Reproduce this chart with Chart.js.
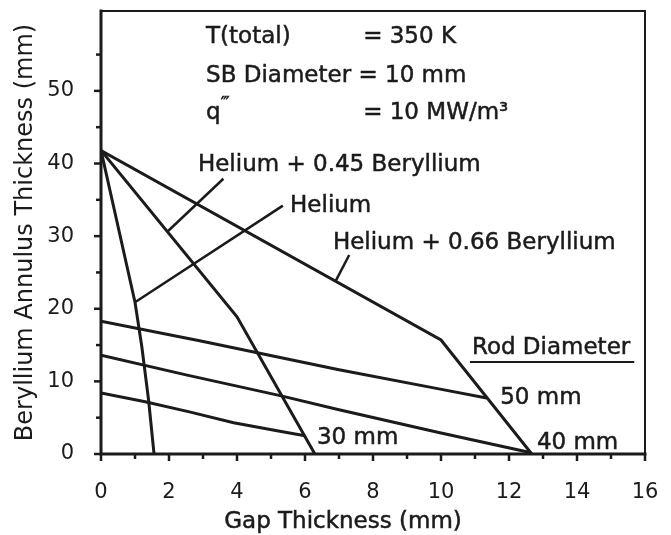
<!DOCTYPE html>
<html>
<head>
<meta charset="utf-8">
<script src="https://cdn.jsdelivr.net/npm/chart.js@4.4.1/dist/chart.umd.min.js"></script>
<style>
  html, body { margin: 0; padding: 0; background: #fff; }
  #wrap { width: 671px; height: 535px; }
</style>
</head>
<body>
<div id="wrap"><canvas id="c" width="671" height="535"></canvas></div>
<script>
// Beryllium annulus thickness (mm) against gap thickness (mm), as [gap, annulus] pairs
const helium      = [[0, 41.8], [1.0, 20.9], [1.2, 14.8], [1.4, 7.4], [1.56, 0]];
const heliumBe045 = [[0, 41.8], [4.0, 18.9], [6.29, 0]];
const heliumBe066 = [[0, 41.8], [10.0, 15.7], [12.67, 0]];
const rod50mm     = [[0, 18.3], [2.9, 15.6], [7.0, 11.6], [9.9, 9.0], [11.34, 7.7]];
const rod40mm     = [[0, 13.6], [2.5, 10.9], [5.3, 8.0], [7.0, 6.1], [9.9, 3.0], [12.62, 0.2]];
const rod30mm     = [[0, 8.4], [1.3, 7.2], [2.6, 5.8], [3.9, 4.3], [5.3, 3.1], [6.0, 2.5]];

// leader lines from each gas label to its curve
const leaderBe045  = [[3.6, 37.9], [1.95, 30.6]];
const leaderHelium = [[5.35, 34.2], [1.0, 20.9]];
const leaderBe066  = [[7.3, 27.4], [6.9, 23.8]];

// tick labels
const xTickLabels = ['0', '2', '4', '6', '8', '10', '12', '14', '16'];
const yTickLabels = ['0', '10', '20', '30', '40', '50'];

// text written inside the plot, anchored at [gap, annulus] (left edge, vertical middle)
const notes = [
  { text: 'T(total)', at: [3.09, 57.4] },
  { text: '= 350 K', at: [7.71, 57.4] },
  { text: 'SB Diameter = 10 mm', at: [3.09, 52.1] },
  { text: '= 10 MW/m\u00B3', at: [7.71, 47.0] },
  { text: 'Helium + 0.45 Beryllium', at: [2.85, 39.8] },
  { text: 'Helium', at: [5.56, 34.2] },
  { text: 'Helium + 0.66 Beryllium', at: [6.82, 29.0] },
  { text: '50 mm', at: [11.74, 7.7] },
  { text: '40 mm', at: [12.82, 1.5] },
  { text: '30 mm', at: [6.35, 2.2] }
];
const heatNote = { text: 'q', mark: '\u2034', at: [3.09, 47.0] };
const rodHeading = { text: 'Rod Diameter', at: [10.91, 14.6] };

const INK = '#1b1b1b';
const FONT = "'DejaVu Sans', sans-serif";

const toXY = pts => pts.map(([x, y]) => ({ x, y }));
const curve = (label, pts, w) => ({
  label, data: toXY(pts), borderColor: INK, borderWidth: w,
  pointRadius: 0, fill: false, tension: 0, showLine: true
});

// text with a faint outline so it reads as heavy as the curves
function inkText(ctx, s, px, py) {
  ctx.fillText(s, px, py);
  ctx.strokeText(s, px, py);
}

// frame, tick marks, x title and in-plot text
const decorations = {
  id: 'decorations',
  afterDraw(chart) {
    const { ctx, chartArea: a, scales: { x, y } } = chart;
    ctx.save();
    ctx.strokeStyle = INK;
    ctx.lineCap = 'square';

    // frame: heavier axes on the left and bottom
    ctx.lineWidth = 2;
    ctx.beginPath();
    ctx.moveTo(a.left, a.top); ctx.lineTo(a.right, a.top); ctx.lineTo(a.right, a.bottom);
    ctx.stroke();
    ctx.lineWidth = 3;
    ctx.beginPath();
    ctx.moveTo(a.left, a.top); ctx.lineTo(a.left, a.bottom); ctx.lineTo(a.right, a.bottom);
    ctx.stroke();

    // tick marks
    ctx.lineWidth = 2.5;
    ctx.lineCap = 'butt';
    x.ticks.forEach(t => {
      const px = x.getPixelForValue(t.value);
      const len = t.value % 2 === 0 ? 7 : 5;
      ctx.beginPath(); ctx.moveTo(px, a.bottom); ctx.lineTo(px, a.bottom + len); ctx.stroke();
    });
    y.ticks.forEach(t => {
      const py = y.getPixelForValue(t.value);
      const len = t.value % 10 === 0 ? 7 : 5;
      ctx.beginPath(); ctx.moveTo(a.left, py); ctx.lineTo(a.left - len, py); ctx.stroke();
    });

    // x axis title
    ctx.fillStyle = INK;
    ctx.lineWidth = 0.5;
    ctx.font = '23px ' + FONT;
    ctx.textAlign = 'center';
    ctx.textBaseline = 'middle';
    inkText(ctx, 'Gap Thickness (mm)', 343, 522);

    // notes
    ctx.textAlign = 'left';
    notes.forEach(n => {
      inkText(ctx, n.text, x.getPixelForValue(n.at[0]), y.getPixelForValue(n.at[1]));
    });

    // q with triple prime
    const qx = x.getPixelForValue(heatNote.at[0]);
    const qy = y.getPixelForValue(heatNote.at[1]);
    inkText(ctx, heatNote.text, qx, qy);
    const qw = ctx.measureText(heatNote.text).width;
    ctx.font = '17px ' + FONT;
    inkText(ctx, heatNote.mark, qx + qw, qy - 8);

    // underlined heading
    ctx.font = '23px ' + FONT;
    const hx = x.getPixelForValue(rodHeading.at[0]);
    const hy = y.getPixelForValue(rodHeading.at[1]);
    inkText(ctx, rodHeading.text, hx, hy);
    const hw = ctx.measureText(rodHeading.text).width;
    ctx.lineWidth = 2;
    ctx.beginPath(); ctx.moveTo(hx - 2, hy + 14); ctx.lineTo(hx + hw + 4, hy + 14); ctx.stroke();

    ctx.restore();
  }
};

new Chart(document.getElementById('c'), {
  type: 'scatter',
  data: {
    datasets: [
      curve('Helium', helium, 3),
      curve('Helium + 0.45 Beryllium', heliumBe045, 3),
      curve('Helium + 0.66 Beryllium', heliumBe066, 3),
      curve('50 mm', rod50mm, 3),
      curve('40 mm', rod40mm, 3),
      curve('30 mm', rod30mm, 3),
      curve('leader 0.45', leaderBe045, 2.5),
      curve('leader helium', leaderHelium, 2.5),
      curve('leader 0.66', leaderBe066, 2.5)
    ]
  },
  options: {
    responsive: false,
    animation: false,
    events: [],
    layout: { padding: { top: 11, right: 26, left: 0, bottom: 0 } },
    plugins: { legend: { display: false }, tooltip: { enabled: false } },
    scales: {
      x: {
        type: 'linear', min: 0, max: 16,
        grid: { display: false }, border: { display: false },
        ticks: {
          stepSize: 1, autoSkip: false, maxRotation: 0, padding: 18,
          color: INK, font: { family: FONT, size: 21 },
          callback: v => (v % 2 === 0 ? xTickLabels[v / 2] : '')
        },
        afterFit: s => { s.height = 81; s.paddingLeft = 0; s.paddingRight = 0; }
      },
      y: {
        type: 'linear', min: 0, max: 61,
        grid: { display: false }, border: { display: false },
        ticks: {
          stepSize: 5, autoSkip: false, padding: 19,
          color: INK, font: { family: FONT, size: 21 },
          callback: v => (v % 10 === 0 ? yTickLabels[v / 10] : '')
        },
        afterBuildTicks: s => { s.ticks = s.ticks.filter(t => t.value <= 55); },
        title: {
          display: true, text: 'Beryllium Annulus Thickness (mm)', color: INK,
          font: { family: FONT, size: 24 }, padding: { top: 11, bottom: 0 }
        },
        afterFit: s => { s.width = 101; s.paddingTop = 0; s.paddingBottom = 0; }
      }
    }
  },
  plugins: [decorations]
});
</script>
</body>
</html>
